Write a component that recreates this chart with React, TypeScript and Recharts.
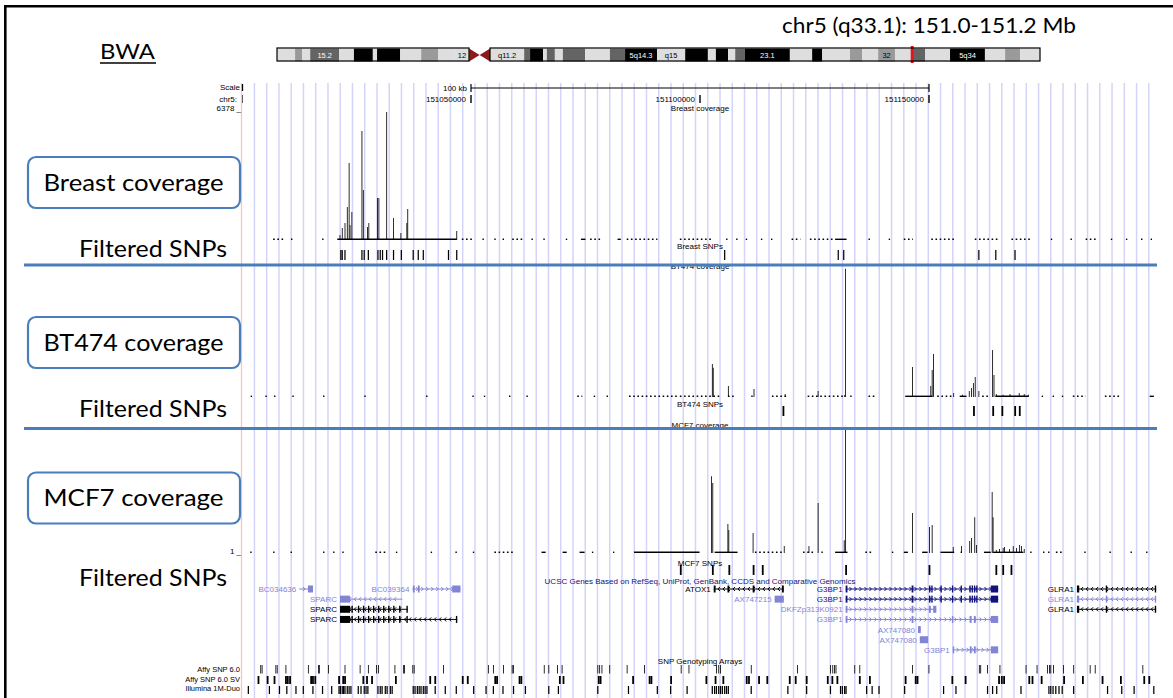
import { ComposedChart, Bar, XAxis, YAxis, ReferenceLine, ReferenceArea } from "recharts";

const SANS = "'Liberation Sans', Arial, Helvetica, sans-serif";
const TITLE_FONT = "Lato, 'Open Sans', sans-serif";
const FRAME_BLUE = "#4a7ebb";
const GENE_LIGHT = "#8484d4";
const GENE_NAVY = "#12127c";
const BLACK = "#000";

// window chr5:151,000,000-151,200,000 ; every position below is kb past 151.0 Mb
const WINDOW_KB: [number, number] = [0, 200];
const PLOT_LEFT = 242;
const PLOT_W = 916;
const NO_MARGIN = { top: 0, right: 0, bottom: 0, left: 0 };

const scaleTicks = [0, 50, 100, 150];
const scaleTickLabels = ["chr5:", "151050000", "151100000", "151150000"];

// light blue guide lines of the browser, every ~2.7 kb
const guideLines = Array.from({ length: 74 }, (_, i) => 2.8 + i * 2.675);

// chromosome 5 ideogram, Mb: [start, end, stain, label]
type Band = [number, number, string, string];
const chr5Bands: Band[] = [
  [0, 4.3, "l", ""], [4.3, 6.0, "g", ""], [6.0, 7.9, "l", ""], [7.9, 14.8, "d", "15.2"],
  [14.8, 18.3, "l", ""], [18.3, 22.8, "k", ""], [22.8, 23.8, "l", ""], [23.8, 29.3, "k", ""],
  [29.3, 34.3, "l", ""], [34.3, 38.3, "g", ""], [38.3, 42.3, "l", ""], [42.3, 45.7, "l", "12"],
  [45.7, 50.7, "c", ""], [50.7, 58.8, "l", "q11.2"], [58.8, 60.2, "d", ""], [60.2, 63.3, "k", ""],
  [63.3, 64.2, "l", ""], [64.2, 66.1, "d", ""], [66.1, 68.0, "l", ""], [68.0, 73.3, "d", ""],
  [73.3, 79.2, "l", ""], [79.2, 82.8, "d", ""], [82.8, 90.4, "k", "5q14.3"], [90.4, 97.1, "l", "q15"],
  [97.1, 102.5, "k", ""], [102.5, 104.4, "l", ""], [104.4, 107.3, "k", ""], [107.3, 109.0, "l", ""],
  [109.0, 111.3, "d", ""], [111.3, 122.0, "k", "23.1"], [122.0, 127.3, "l", ""], [127.3, 129.7, "k", ""],
  [129.7, 136.3, "l", ""], [136.3, 139.2, "g", ""], [139.2, 143.0, "l", ""], [143.0, 147.0, "g", "32"],
  [147.0, 151.1, "l", ""], [151.1, 154.2, "d", ""], [154.2, 160.1, "l", ""], [160.1, 168.4, "k", "5q34"],
  [168.4, 173.2, "l", ""], [173.2, 176.8, "g", ""], [176.8, 181.5, "l", ""],
];
const CHR5_MB = 181.5;
const viewMb = 151.1;

// coverage peaks
const breastPos = [21.4, 21.9, 22.5, 23.0, 23.4, 23.6, 24.0, 26.2, 26.5, 27.4, 27.7, 29.6, 29.9, 31.6, 33.1, 34.7, 36.0, 36.2, 46.9];
const breastCov = [240, 580, 820, 1590, 3720, 720, 1350, 5270, 2420, 630, 820, 2030, 2030, 6180, 1060, 340, 820, 1500, 430];
const breastSolid: [number, number][] = [
  [10.7, 11.0], [17.5, 17.8], [20.8, 46.9], [52.5, 52.8], [55.1, 55.4], [56.9, 57.2], [63.2, 63.5],
  [65.8, 66.1], [70.7, 71.0], [74.0, 75.0], [82.0, 82.7], [105.7, 106.0], [107.9, 108.2], [110.0, 110.3],
  [113.3, 113.6], [115.5, 115.8], [129.5, 132.0], [136.8, 137.1], [141.2, 141.5], [176.6, 176.9],
  [180.9, 181.2], [189.7, 190.0], [193.0, 193.3], [196.3, 196.6], [198.4, 198.7],
];
const breastDotted: [number, number][] = [
  [6.8, 9.0], [48.0, 50.3], [59.0, 61.6], [76.0, 78.2], [84.0, 90.7], [95.6, 102.9], [120.0, 121.9],
  [124.0, 129.5], [144.5, 146.5], [150.5, 156.0], [160.0, 165.5], [168.0, 172.5], [184.2, 186.4],
];

const bt474Pos = [102.7, 102.9, 106.2, 111.8, 118.6, 125.8, 131.6, 131.8, 146.4, 150.4, 150.7, 151.0, 155.4, 157.3, 158.8, 159.3, 159.7, 160.1, 160.9, 163.9, 164.2, 164.7, 166.2, 167.7, 169.7, 170.8, 171.7];
const bt474Cov = [600, 530, 200, 145, 55, 110, 35, 2330, 545, 200, 490, 780, 75, 40, 110, 165, 255, 365, 110, 855, 400, 55, 40, 55, 75, 55, 40];
const bt474Solid: [number, number][] = [
  [1.9, 2.2], [5.1, 5.4], [7.0, 7.3], [11.0, 11.3], [17.7, 18.0], [26.7, 27.0], [40.2, 40.5], [50.3, 50.6],
  [52.8, 53.1], [58.3, 58.6], [62.1, 62.4], [76.8, 77.1], [79.6, 79.9], [111.2, 111.5], [132.8, 133.1],
  [144.8, 150.7], [156.7, 158.2], [164.5, 171.7], [174.6, 174.9], [177.0, 177.3], [179.0, 179.3], [198.2, 199.1],
];
const bt474Dotted: [number, number][] = [
  [73.2, 74.3], [84.5, 95.0], [95.6, 104.6], [106.1, 107.9], [115.7, 118.8], [123.5, 131.5],
  [136.8, 138.5], [151.8, 155.1], [161.6, 163.4], [181.4, 184.2], [188.4, 191.9],
];

const mcf7Pos = [102.5, 102.8, 106.1, 106.3, 111.6, 118.4, 123.8, 125.8, 131.5, 131.8, 146.4, 150.1, 150.7, 155.3, 157.1, 158.9, 159.3, 160.0, 160.4, 163.8, 164.0, 164.7, 165.4, 166.2, 166.5, 167.6, 168.4, 169.1, 169.8, 170.2, 170.8];
const mcf7Cov = [1800, 1640, 680, 540, 470, 165, 165, 1170, 300, 2920, 935, 610, 655, 140, 165, 280, 350, 840, 190, 1430, 840, 70, 95, 115, 140, 95, 165, 115, 190, 165, 95];
const mcf7Solid: [number, number][] = [
  [1.8, 2.1], [6.8, 7.1], [10.6, 10.9], [17.7, 18.0], [19.9, 20.2], [21.9, 22.2], [33.6, 33.9], [41.2, 41.5],
  [46.6, 46.9], [50.4, 50.7], [65.4, 66.3], [70.0, 70.9], [73.7, 74.8], [76.4, 76.7], [81.0, 81.3],
  [85.6, 99.9], [103.2, 108.2], [126.5, 126.8], [129.5, 132.2], [141.9, 142.2], [144.5, 145.4],
  [148.5, 149.7], [152.5, 155.5], [156.9, 157.2], [162.0, 163.5], [164.0, 170.6], [172.1, 172.4],
  [174.9, 175.2], [176.0, 176.3], [183.9, 184.2], [189.4, 189.7], [194.0, 194.3], [197.4, 197.7],
];
const mcf7Dotted: [number, number][] = [
  [29.1, 31.5], [55.1, 59.3], [112.0, 118.2], [122.5, 125.0], [136.1, 137.4], [177.7, 179.5],
];

// filtered SNP calls
const breastSnps = [21.6, 21.9, 22.5, 26.2, 26.7, 27.6, 29.7, 30.2, 30.7, 31.6, 33.1, 34.8, 37.4, 38.5, 39.6, 45.1, 46.9, 105.4, 130.2, 131.4, 160.9, 164.6, 168.8];
const bt474Snps = [118.3, 159.9, 164.1, 166.1, 168.9, 169.9];
const mcf7Snps = [95.7, 102.7, 106.3, 111.6, 113.6, 131.8, 150.0, 164.6, 166.1, 167.9];

// SNP genotyping array probes
const affy6 = [4.1, 4.4, 7.4, 7.7, 9.6, 14.5, 16.7, 16.9, 18.9, 22.5, 25.8, 27.6, 29.4, 29.8, 33.4, 35.3, 35.5, 37.3, 37.6, 44.0, 53.8, 54.9, 57.1, 59.0, 59.3, 66.0, 67.0, 68.9, 69.9, 77.7, 78.1, 78.6, 80.3, 84.1, 87.9, 95.9, 97.6, 103.6, 104.1, 104.5, 111.2, 121.3, 128.5, 129.0, 129.4, 129.7, 133.8, 134.9, 146.4, 150.0, 161.0, 161.3, 162.8, 165.5, 171.2, 173.6, 175.9, 176.3, 176.6, 177.2, 179.4, 181.6, 185.2, 186.3, 196.7];
const affy6sv = [3.6, 5.6, 7.1, 9.6, 10.0, 10.5, 15.1, 15.5, 16.0, 21.2, 22.1, 22.5, 26.5, 27.3, 28.4, 33.6, 41.1, 42.2, 48.2, 49.3, 55.3, 55.7, 60.6, 61.0, 69.4, 70.2, 77.9, 78.3, 85.4, 89.0, 89.4, 93.7, 101.4, 103.4, 105.1, 110.2, 110.7, 112.9, 114.7, 119.6, 120.9, 123.3, 127.9, 128.9, 130.0, 134.9, 137.1, 144.9, 147.1, 147.5, 155.1, 158.0, 165.3, 165.9, 166.4, 171.9, 172.6, 174.6, 179.5, 183.6, 187.9, 191.9, 197.0, 198.1];
const illumina1m = [1.4, 6.0, 8.2, 9.8, 11.8, 13.4, 15.5, 17.6, 19.6, 21.2, 21.5, 21.9, 22.2, 22.5, 23.0, 23.4, 23.8, 25.4, 26.0, 26.7, 27.1, 27.5, 29.7, 30.2, 30.6, 31.3, 31.7, 32.4, 32.8, 37.4, 37.8, 38.3, 38.7, 39.1, 39.6, 40.0, 40.4, 42.2, 44.4, 46.8, 50.6, 53.3, 54.9, 57.0, 59.3, 61.9, 67.0, 69.1, 77.7, 84.4, 90.7, 93.6, 97.2, 102.7, 103.2, 103.6, 104.1, 104.5, 104.9, 105.4, 105.8, 106.2, 111.2, 119.2, 123.3, 128.5, 130.7, 131.1, 131.6, 131.9, 136.4, 137.6, 139.1, 144.7, 153.2, 155.9, 162.8, 163.9, 164.8, 170.1, 176.2, 176.6, 177.1, 177.7, 178.4, 179.1, 181.6, 189.0, 192.1, 194.8, 199.1];

// UCSC genes
type Gene = { name: string; row: number; span: [number, number]; strand: number; color: string; exons: [number, number][] };
const g3bp1Exons: [number, number][] = [[131.8, 132.2], [146.2, 146.6], [150.0, 150.3], [150.5, 150.8], [152.5, 152.8], [155.0, 155.3], [156.9, 157.2], [158.8, 159.1], [159.3, 159.6], [159.8, 160.1], [160.3, 160.6], [163.5, 165.1]];
const glra1Exons: [number, number][] = [[182.3, 182.8], [188.6, 188.9], [199.3, 199.6]];
const sparcExons: [number, number][] = [[21.4, 23.6], [23.9, 24.2], [25.3, 25.6], [26.4, 26.7], [27.5, 27.8], [28.6, 28.9], [29.7, 30.0], [30.8, 31.1], [31.9, 32.2], [33.0, 33.3], [34.3, 34.6], [35.9, 36.2]];
const genes: Gene[] = [
  { name: "BC034636", row: 1, span: [12.5, 15.5], strand: 1, color: GENE_LIGHT, exons: [[14.4, 15.5]] },
  { name: "BC039364", row: 1, span: [37.2, 47.7], strand: 1, color: GENE_LIGHT, exons: [[37.3, 37.7], [38.4, 38.8], [45.9, 47.7]] },
  { name: "ATOX1", row: 1, span: [103.0, 118.3], strand: -1, color: BLACK, exons: [[103.0, 103.4], [106.0, 106.4], [111.5, 111.9], [117.9, 118.3]] },
  { name: "G3BP1", row: 1, span: [131.8, 165.1], strand: 1, color: GENE_NAVY, exons: g3bp1Exons },
  { name: "GLRA1", row: 1, span: [182.3, 199.6], strand: -1, color: BLACK, exons: glra1Exons },
  { name: "SPARC", row: 2, span: [21.4, 35.0], strand: -1, color: GENE_LIGHT, exons: [[21.4, 23.6]] },
  { name: "AX747215", row: 2, span: [116.3, 118.3], strand: 0, color: GENE_LIGHT, exons: [[116.3, 118.3]] },
  { name: "G3BP1", row: 2, span: [131.8, 165.1], strand: 1, color: GENE_NAVY, exons: g3bp1Exons },
  { name: "GLRA1", row: 2, span: [182.3, 199.6], strand: -1, color: GENE_LIGHT, exons: glra1Exons },
  { name: "SPARC", row: 3, span: [21.4, 36.2], strand: -1, color: BLACK, exons: sparcExons },
  { name: "DKFZp313K0921", row: 3, span: [131.8, 151.6], strand: 1, color: GENE_LIGHT, exons: [[131.8, 132.2], [146.2, 146.6], [150.0, 150.4], [150.9, 151.6]] },
  { name: "GLRA1", row: 3, span: [182.3, 199.6], strand: -1, color: BLACK, exons: glra1Exons },
  { name: "SPARC", row: 4, span: [21.4, 47.0], strand: -1, color: BLACK, exons: [...sparcExons, [46.7, 47.0]] },
  { name: "G3BP1", row: 4, span: [131.8, 165.1], strand: 1, color: GENE_LIGHT, exons: [[131.8, 132.2], [146.2, 146.6], [155.0, 155.3], [158.9, 159.3], [159.8, 160.2], [163.5, 165.1]] },
  { name: "AX747080", row: 5, span: [147.6, 148.2], strand: 0, color: GENE_LIGHT, exons: [[147.6, 148.2]] },
  { name: "AX747080", row: 6, span: [148.0, 149.8], strand: 0, color: GENE_LIGHT, exons: [[148.0, 149.8]] },
  { name: "G3BP1", row: 7, span: [155.2, 165.1], strand: 1, color: GENE_LIGHT, exons: [[155.2, 155.5], [158.9, 159.3], [159.8, 160.2], [163.5, 165.1]] },
];

const STAIN: Record<string, string> = { l: "#dedede", g: "#9a9a9a", d: "#646464", k: "#000", c: "#8b1c1c" };

function BandShape(props: any) {
  const { x, y, width, height, payload } = props;
  if (payload.stain === "c") {
    const mx = x + width / 2, my = y + height / 2;
    return (
      <g>
        <polygon points={`${x},${y} ${mx},${my} ${x},${y + height}`} fill={STAIN.c} />
        <polygon points={`${x + width},${y} ${mx},${my} ${x + width},${y + height}`} fill={STAIN.c} />
      </g>
    );
  }
  const dark = payload.stain === "k" || payload.stain === "d";
  return (
    <g>
      <rect x={x} y={y} width={width} height={height} fill={STAIN[payload.stain]} />
      {payload.label && (
        <text x={x + width / 2} y={y + height / 2 + 2.6} textAnchor="middle" fontSize={7.5} fontFamily={SANS} fill={dark ? "#fff" : "#000"}>
          {payload.label}
        </text>
      )}
    </g>
  );
}

function Ideogram() {
  const data = chr5Bands.map(([s, e, stain, label]) => ({ row: 1, range: [s, e], stain, label }));
  return (
    <div style={{ position: "absolute", left: 277, top: 46 }}>
      <ComposedChart layout="vertical" width={763} height={17} data={data} margin={NO_MARGIN}>
        <XAxis type="number" domain={[0, CHR5_MB]} hide />
        <YAxis type="number" dataKey="row" domain={[0, 2]} hide />
        <Bar dataKey="range" barSize={13} shape={BandShape} isAnimationActive={false} />
        <ReferenceLine x={viewMb} stroke="#e8141a" strokeWidth={3} />
      </ComposedChart>
    </div>
  );
}

function Guides() {
  const data = guideLines.map((pos) => ({ pos, line: 1 }));
  return (
    <div style={{ position: "absolute", left: PLOT_LEFT, top: 83 }}>
      <ComposedChart width={PLOT_W} height={615} data={data} margin={NO_MARGIN}>
        <XAxis type="number" dataKey="pos" domain={WINDOW_KB} hide />
        <YAxis type="number" domain={[0, 1]} hide />
        <Bar dataKey="line" fill="#d4d4fb" barSize={1.5} isAnimationActive={false} />
      </ComposedChart>
    </div>
  );
}

function ScaleTick(props: any) {
  const { x, y, payload } = props;
  const label = scaleTickLabels[scaleTicks.indexOf(payload.value)];
  return (
    <g>
      <line x1={x} x2={x} y1={y + 2} y2={y + 10} stroke="#000" strokeWidth={1.4} />
      <text x={x - 5} y={y + 9} textAnchor="end" fontSize={8} fontFamily={SANS} fill="#000">{label}</text>
    </g>
  );
}

function ScaleAxis() {
  const data = scaleTicks.map((pos) => ({ pos, mark: 0 }));
  return (
    <div style={{ position: "absolute", left: PLOT_LEFT - 100, top: 83 }}>
      <ComposedChart width={PLOT_W + 100} height={26} data={data} margin={{ top: 0, right: 0, bottom: 0, left: 100 }}>
        <XAxis type="number" dataKey="pos" domain={WINDOW_KB} ticks={scaleTicks} interval={0} height={16} axisLine={false} tickLine={false} tickSize={0} tickMargin={0} tick={(p: any) => <ScaleTick {...p} />} />
        <YAxis type="number" domain={[0, 1]} hide />
        <Bar dataKey="mark" fill="#000" barSize={1} isAnimationActive={false} />
        <ReferenceLine segment={[{ x: 50, y: 0.5 }, { x: 150, y: 0.5 }]} stroke="#000" strokeWidth={1.2} />
        <ReferenceLine segment={[{ x: 50, y: 0.1 }, { x: 50, y: 0.9 }]} stroke="#000" strokeWidth={1.2} />
        <ReferenceLine segment={[{ x: 150, y: 0.1 }, { x: 150, y: 0.9 }]} stroke="#000" strokeWidth={1.2} />
      </ComposedChart>
    </div>
  );
}

function Coverage({ top, height, max, pos, cov, solid, dotted }: { top: number; height: number; max: number; pos: number[]; cov: number[]; solid: [number, number][]; dotted: [number, number][] }) {
  const data = pos.map((p, i) => ({ pos: p, cov: cov[i] }));
  const lowY = (max * 1.4) / height;
  return (
    <div style={{ position: "absolute", left: PLOT_LEFT, top }}>
      <ComposedChart width={PLOT_W} height={height} data={data} margin={NO_MARGIN}>
        <XAxis type="number" dataKey="pos" domain={WINDOW_KB} hide allowDataOverflow />
        <YAxis type="number" domain={[0, max]} hide allowDataOverflow />
        {solid.map(([a, b], i) => (
          <ReferenceArea key={"s" + i} x1={a} x2={b} y1={0} y2={lowY} fill="#000" fillOpacity={1} stroke="none" />
        ))}
        {dotted.map(([a, b], i) => (
          <ReferenceLine key={"d" + i} segment={[{ x: a, y: lowY / 2 }, { x: b, y: lowY / 2 }]} stroke="#000" strokeWidth={1.4} strokeDasharray="1.6 2.6" />
        ))}
        <Bar dataKey="cov" fill="#000" barSize={2} isAnimationActive={false} />
      </ComposedChart>
    </div>
  );
}

function Ticks({ top, height, positions, width = 1.8 }: { top: number; height: number; positions: number[]; width?: number }) {
  const data = positions.map((pos) => ({ pos, hit: 1 }));
  return (
    <div style={{ position: "absolute", left: PLOT_LEFT, top }}>
      <ComposedChart width={PLOT_W} height={height} data={data} margin={NO_MARGIN}>
        <XAxis type="number" dataKey="pos" domain={WINDOW_KB} hide />
        <YAxis type="number" domain={[0, 1]} hide />
        <Bar dataKey="hit" fill="#000" barSize={width} isAnimationActive={false} />
      </ComposedChart>
    </div>
  );
}

function GeneShape(props: any) {
  const { x, y, width, height, payload } = props;
  const g = payload as Gene;
  const cy = y + height / 2;
  const [s0, s1] = g.span;
  const toPx = (k: number) => x + ((k - s0) / (s1 - s0)) * width;
  const marks: any[] = [];
  if (g.strand !== 0) {
    for (let cx = x + 5; cx < x + width - 3; cx += 5) {
      const d = g.strand > 0
        ? `M${cx - 1.2},${cy - 2} L${cx + 0.8},${cy} L${cx - 1.2},${cy + 2}`
        : `M${cx + 1.2},${cy - 2} L${cx - 0.8},${cy} L${cx + 1.2},${cy + 2}`;
      marks.push(<path key={cx} d={d} stroke={g.color} strokeWidth={1} fill="none" />);
    }
  }
  return (
    <g>
      <line x1={x} x2={x + width} y1={cy} y2={cy} stroke={g.color} strokeWidth={1} />
      {marks}
      {g.exons.map(([a, b], i) => {
        const ax = toPx(a);
        const w = Math.max(1.3, toPx(b) - ax);
        return <rect key={i} x={ax} y={cy - 3.5} width={w} height={7} fill={g.color} />;
      })}
      <text x={x - 3} y={cy + 3} textAnchor="end" fontSize={8} fontFamily={SANS} fill={g.color}>{g.name}</text>
    </g>
  );
}

function Genes() {
  return (
    <div style={{ position: "absolute", left: PLOT_LEFT, top: 584 }}>
      <ComposedChart layout="vertical" width={PLOT_W} height={71} data={genes} margin={NO_MARGIN}>
        <XAxis type="number" domain={WINDOW_KB} hide />
        <YAxis type="number" dataKey="row" domain={[0.5, 7.5]} hide />
        <Bar dataKey="span" barSize={8} shape={GeneShape} isAnimationActive={false} />
      </ComposedChart>
    </div>
  );
}

const small = { fontSize: 8, fontFamily: SANS, fill: "#000" } as const;

function Overlay() {
  const box = (y: number, label: string, baseline: number) => (
    <g>
      <rect x={28} y={y} width={212} height={51} rx={8} fill="#fff" stroke={FRAME_BLUE} strokeWidth={2.2} />
      <text x={43.5} y={baseline} fontSize={24} fontFamily={TITLE_FONT} textLength={180} lengthAdjust="spacingAndGlyphs">{label}</text>
    </g>
  );
  const filtered = (baseline: number) => (
    <text x={79} y={baseline} fontSize={24} fontFamily={TITLE_FONT} textLength={148} lengthAdjust="spacingAndGlyphs">Filtered SNPs</text>
  );
  return (
    <svg width={1173} height={698} style={{ position: "absolute", left: 0, top: 0, pointerEvents: "none" }}>
      <line x1={5.3} x2={5.3} y1={5} y2={698} stroke="#000" strokeWidth={2.6} />
      <line x1={4} x2={1173} y1={6.3} y2={6.3} stroke="#000" strokeWidth={2.6} />
      <line x1={241.5} x2={241.5} y1={83} y2={698} stroke="#ffc0c0" strokeWidth={1.3} />

      <text x={100} y={59} fontSize={22} fontFamily={TITLE_FONT} textLength={55} lengthAdjust="spacingAndGlyphs">BWA</text>
      <line x1={100} x2={156} y1={63} y2={63} stroke="#000" strokeWidth={1.6} />
      <text x={782} y={33} fontSize={21} fontFamily={TITLE_FONT} textLength={294} lengthAdjust="spacingAndGlyphs">chr5 (q33.1): 151.0-151.2 Mb</text>

      <rect x={277} y={48} width={192} height={13} fill="none" stroke="#000" strokeWidth={1.2} />
      <rect x={490} y={48} width={550} height={13} fill="none" stroke="#000" strokeWidth={1.2} />

      <text x={240} y={90} textAnchor="end" {...small}>Scale</text>
      <line x1={242.5} x2={242.5} y1={84} y2={91} stroke="#000" strokeWidth={1.3} />
      <text x={467} y={91} textAnchor="end" {...small}>100 kb</text>
      <text x={241} y={111} textAnchor="end" {...small}>6378 _</text>
      <text x={241} y={554} textAnchor="end" {...small}>1 _</text>

      <text x={700} y={111} textAnchor="middle" {...small}>Breast coverage</text>
      <text x={700} y={249} textAnchor="middle" {...small}>Breast SNPs</text>
      <text x={700} y={269} textAnchor="middle" {...small}>BT474 coverage</text>
      <text x={700} y={407} textAnchor="middle" {...small}>BT474 SNPs</text>
      <text x={700} y={428} textAnchor="middle" {...small}>MCF7 coverage</text>
      <text x={700} y={565.5} textAnchor="middle" {...small}>MCF7 SNPs</text>
      <text x={700} y={583.5} textAnchor="middle" fontSize={8} fontFamily={SANS} fill={GENE_NAVY}>UCSC Genes Based on RefSeq, UniProt, GenBank, CCDS and Comparative Genomics</text>
      <text x={700} y={663.5} textAnchor="middle" {...small}>SNP Genotyping Arrays</text>
      <text x={240} y={672} textAnchor="end" fontSize={7.5} fontFamily={SANS}>Affy SNP 6.0</text>
      <text x={240} y={681.5} textAnchor="end" fontSize={7.5} fontFamily={SANS}>Affy SNP 6.0 SV</text>
      <text x={240} y={691} textAnchor="end" fontSize={7.5} fontFamily={SANS}>Illumina 1M-Duo</text>

      <line x1={24} x2={1157} y1={265} y2={265} stroke={FRAME_BLUE} strokeWidth={3} />
      <line x1={24} x2={1157} y1={428.5} y2={428.5} stroke={FRAME_BLUE} strokeWidth={3} />

      {box(157, "Breast coverage", 190.5)}
      {filtered(257.3)}
      {box(317, "BT474 coverage", 350.5)}
      {filtered(417.3)}
      {box(472.5, "MCF7 coverage", 506)}
      {filtered(586)}
    </svg>
  );
}

export default function App() {
  return (
    <div style={{ position: "absolute", left: 0, top: 0, width: 1173, height: 698, background: "#fff", overflow: "hidden" }}>
      <Guides />
      <Ideogram />
      <ScaleAxis />
      <Coverage top={108} height={132} max={6378} pos={breastPos} cov={breastCov} solid={breastSolid} dotted={breastDotted} />
      <Ticks top={250} height={10} positions={breastSnps} />
      <Coverage top={265} height={132} max={2400} pos={bt474Pos} cov={bt474Cov} solid={bt474Solid} dotted={bt474Dotted} />
      <Ticks top={406} height={10} positions={bt474Snps} />
      <Coverage top={425} height={128} max={3000} pos={mcf7Pos} cov={mcf7Cov} solid={mcf7Solid} dotted={mcf7Dotted} />
      <Ticks top={565} height={10} positions={mcf7Snps} />
      <Genes />
      <Ticks top={665} height={8.5} positions={affy6} />
      <Ticks top={675.5} height={8.5} positions={affy6sv} />
      <Ticks top={685.5} height={8.5} positions={illumina1m} />
      <Overlay />
    </div>
  );
}
